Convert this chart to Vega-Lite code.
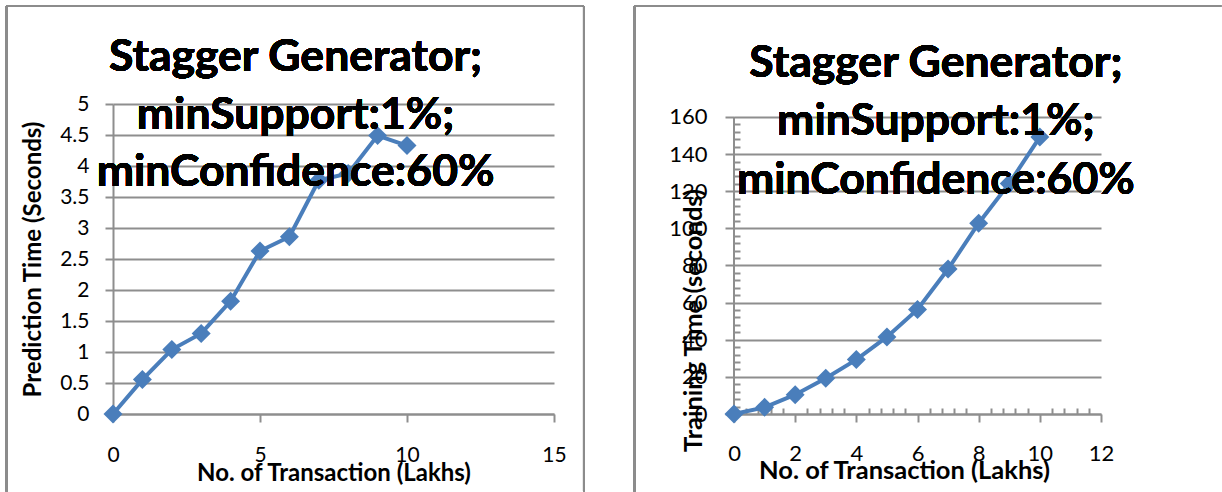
{
  "$schema": "https://vega.github.io/schema/vega-lite/v6.json",
  "background": "white",
  "padding": {"left": 5, "top": 4, "right": 0, "bottom": 0},
  "datasets": {
    "prediction": [
      {"lakhs": 0, "seconds": 0},
      {"lakhs": 1, "seconds": 0.555},
      {"lakhs": 2, "seconds": 1.04},
      {"lakhs": 3, "seconds": 1.3},
      {"lakhs": 4, "seconds": 1.82},
      {"lakhs": 5, "seconds": 2.63},
      {"lakhs": 6, "seconds": 2.86},
      {"lakhs": 7, "seconds": 3.77},
      {"lakhs": 8, "seconds": 3.88},
      {"lakhs": 9, "seconds": 4.49},
      {"lakhs": 10, "seconds": 4.33}
    ],
    "training": [
      {"lakhs": 0, "seconds": 0},
      {"lakhs": 1, "seconds": 3.6},
      {"lakhs": 2, "seconds": 10.4},
      {"lakhs": 3, "seconds": 19.3},
      {"lakhs": 4, "seconds": 29.3},
      {"lakhs": 5, "seconds": 41.5},
      {"lakhs": 6, "seconds": 56.3},
      {"lakhs": 7, "seconds": 78.1},
      {"lakhs": 8, "seconds": 102.8},
      {"lakhs": 9, "seconds": 124.2},
      {"lakhs": 10, "seconds": 149.2}
    ]
  },
  "spacing": 48,
  "hconcat": [
    {
      "width": 441,
      "height": 310,
      "data": {"name": "prediction"},
      "resolve": {"axis": {"x": "independent", "y": "independent"}},
      "layer": [
        {
          "mark": {"type": "rule", "color": "#8c8c8c", "strokeWidth": 2},
          "encoding": {
            "x": {"datum": -3.62, "type": "quantitative", "scale": {"domain": [0, 15], "nice": false, "zero": false}, "axis": null},
            "y": {"datum": 6.58, "type": "quantitative", "scale": {"domain": [0, 5], "nice": false, "zero": false}, "axis": null},
            "y2": {"datum": -1.25}
          }
        },
        {
          "mark": {"type": "rule", "color": "#8c8c8c", "strokeWidth": 2},
          "encoding": {
            "x": {"datum": -3.62, "type": "quantitative", "scale": {"domain": [0, 15], "nice": false, "zero": false}, "axis": null},
            "x2": {"datum": 16.02},
            "y": {"datum": 6.58, "type": "quantitative", "scale": {"domain": [0, 5], "nice": false, "zero": false}, "axis": null}
          }
        },
        {
          "mark": {"type": "rule", "color": "#8c8c8c", "strokeWidth": 2},
          "encoding": {
            "x": {"datum": 16.02, "type": "quantitative", "scale": {"domain": [0, 15], "nice": false, "zero": false}, "axis": null},
            "y": {"datum": 6.58, "type": "quantitative", "scale": {"domain": [0, 5], "nice": false, "zero": false}, "axis": null},
            "y2": {"datum": -1.25}
          }
        },
        {
          "mark": {"type": "line", "color": "#4a7ebb", "strokeWidth": 4},
          "encoding": {
            "x": {
              "field": "lakhs", "type": "quantitative",
              "scale": {"domain": [0, 15], "nice": false, "zero": false},
              "axis": {
                "title": "No. of Transaction (Lakhs)",
                "values": [0, 5, 10, 15],
                "format": "~g",
                "grid": false,
                "tickSize": 8, "tickWidth": 2, "tickColor": "#8e8e8e",
                "domainColor": "#8e8e8e", "domainWidth": 2,
                "labelFontSize": 21, "labelPadding": 22, "labelFlush": false,
                "titleFontSize": 24, "titleFontWeight": "bold", "titlePadding": -4
              }
            },
            "y": {
              "field": "seconds", "type": "quantitative",
              "scale": {"domain": [0, 5], "nice": false, "zero": false},
              "axis": {
                "title": "Prediction Time (Seconds)",
                "values": [0, 0.5, 1, 1.5, 2, 2.5, 3, 3.5, 4, 4.5, 5],
                "format": "~g",
                "grid": true, "gridColor": "#8e8e8e", "gridWidth": 2,
                "tickSize": 8, "tickWidth": 2, "tickColor": "#8e8e8e",
                "domainColor": "#8e8e8e", "domainWidth": 2,
                "labelFontSize": 21, "labelPadding": 16, "labelFlush": false,
                "titleFontSize": 24, "titleFontWeight": "bold", "titlePadding": 14
              }
            }
          }
        },
        {
          "mark": {"type": "point", "shape": "diamond", "filled": true, "size": 360, "color": "#4a7ebb", "opacity": 1},
          "encoding": {
            "x": {"field": "lakhs", "type": "quantitative", "scale": {"domain": [0, 15], "nice": false, "zero": false}, "axis": null},
            "y": {"field": "seconds", "type": "quantitative", "scale": {"domain": [0, 5], "nice": false, "zero": false}, "axis": null}
          }
        },
        {
          "mark": {"type": "text", "font": "Lato", "fontSize": 44.5, "fontWeight": "bold", "color": "black", "align": "center", "baseline": "alphabetic", "lineHeight": 57.5},
          "encoding": {
            "x": {"datum": 6.21, "type": "quantitative", "scale": {"domain": [0, 15], "nice": false, "zero": false}, "axis": null},
            "y": {"datum": 5.532, "type": "quantitative", "scale": {"domain": [0, 5], "nice": false, "zero": false}, "axis": null},
            "text": {"value": ["Stagger Generator;", "minSupport:1%;", "minConfidence:60%"]}
          }
        }
      ]
    },
    {
      "width": 367,
      "height": 310,
      "data": {"name": "training"},
      "resolve": {"axis": {"x": "independent", "y": "independent"}},
      "layer": [
        {
          "mark": {"type": "rule", "color": "#8c8c8c", "strokeWidth": 2},
          "encoding": {
            "x": {"datum": -3.254, "type": "quantitative", "scale": {"domain": [0, 12], "nice": false, "zero": false}, "axis": null},
            "y": {"datum": 219.8, "type": "quantitative", "scale": {"domain": [0, 167.003], "nice": false, "zero": false}, "axis": null},
            "y2": {"datum": -41.8}
          }
        },
        {
          "mark": {"type": "rule", "color": "#8c8c8c", "strokeWidth": 2},
          "encoding": {
            "x": {"datum": -3.254, "type": "quantitative", "scale": {"domain": [0, 12], "nice": false, "zero": false}, "axis": null},
            "x2": {"datum": 15.93},
            "y": {"datum": 219.8, "type": "quantitative", "scale": {"domain": [0, 167.003], "nice": false, "zero": false}, "axis": null}
          }
        },
        {
          "mark": {"type": "rule", "color": "#8e8e8e", "strokeWidth": 2},
          "encoding": {
            "x": {"datum": 0, "type": "quantitative", "scale": {"domain": [0, 12], "nice": false, "zero": false}, "axis": null},
            "y": {"datum": 0, "type": "quantitative", "scale": {"domain": [0, 167.003], "nice": false, "zero": false}, "axis": null},
            "y2": {"datum": 160}
          }
        },
        {
          "mark": {"type": "line", "color": "#4a7ebb", "strokeWidth": 4},
          "encoding": {
            "x": {
              "field": "lakhs", "type": "quantitative",
              "scale": {"domain": [0, 12], "nice": false, "zero": false},
              "axis": {
                "title": "No. of Transaction (Lakhs)",
                "values": [0, 2, 4, 6, 8, 10, 12],
                "grid": false,
                "tickSize": 8, "tickWidth": 2, "tickColor": "#8e8e8e",
                "domainColor": "#8e8e8e", "domainWidth": 2,
                "labelFontSize": 22, "labelPadding": 21, "labelFlush": false,
                "titleFontSize": 25.5, "titleFontWeight": "bold", "titlePadding": -6, "titleX": 170
              }
            },
            "y": {
              "field": "seconds", "type": "quantitative",
              "scale": {"domain": [0, 167.003], "nice": false, "zero": false},
              "axis": {
                "title": "Training Time (seconds)",
                "values": [0, 20, 40, 60, 80, 100, 120, 140, 160],
                "grid": true, "gridColor": "#8e8e8e", "gridWidth": 2,
                "domain": false,
                "tickSize": 9, "tickWidth": 2, "tickColor": "#8e8e8e",
                "labelFontSize": 22, "labelPadding": 18, "labelFlush": false,
                "titleFontSize": 25.5, "titleFontWeight": "bold", "titleX": -28, "titleY": 216
              }
            }
          }
        },
        {
          "mark": {"type": "point", "shape": "diamond", "filled": true, "size": 360, "color": "#4a7ebb", "opacity": 1},
          "encoding": {
            "x": {
              "field": "lakhs", "type": "quantitative",
              "scale": {"domain": [0, 12], "nice": false, "zero": false},
              "axis": {
                "orient": "top", "offset": -310, "title": null, "labels": false, "domain": false, "grid": false,
                "values": [0.4, 0.8, 1.2, 1.6, 2.4, 2.8, 3.2, 3.6, 4.4, 4.8, 5.2, 5.6, 6.4, 6.8, 7.2, 7.6, 8.4, 8.8, 9.2, 9.6, 10.4, 10.8, 11.2, 11.6],
                "tickSize": 6, "tickWidth": 2, "tickColor": "#8e8e8e"
              }
            },
            "y": {
              "field": "seconds", "type": "quantitative",
              "scale": {"domain": [0, 167.003], "nice": false, "zero": false},
              "axis": {
                "orient": "right", "offset": -367, "title": null, "labels": false, "domain": false, "grid": false,
                "values": [4, 8, 12, 16, 24, 28, 32, 36, 44, 48, 52, 56, 64, 68, 72, 76, 84, 88, 92, 96, 104, 108, 112, 116, 124, 128, 132, 136, 144, 148, 152, 156],
                "tickSize": 6, "tickWidth": 2, "tickColor": "#8e8e8e"
              }
            }
          }
        },
        {
          "mark": {"type": "text", "font": "Lato", "fontSize": 44.5, "fontWeight": "bold", "color": "black", "align": "center", "baseline": "alphabetic", "lineHeight": 58.5},
          "encoding": {
            "x": {"datum": 6.6, "type": "quantitative", "scale": {"domain": [0, 12], "nice": false, "zero": false}, "axis": null},
            "y": {"datum": 181.6, "type": "quantitative", "scale": {"domain": [0, 167.003], "nice": false, "zero": false}, "axis": null},
            "text": {"value": ["Stagger Generator;", "minSupport:1%;", "minConfidence:60%"]}
          }
        }
      ]
    }
  ],
  "config": {
    "view": {"stroke": null},
    "axis": {"labelFont": "Lato", "titleFont": "Lato", "labelColor": "black", "titleColor": "black"}
  }
}
